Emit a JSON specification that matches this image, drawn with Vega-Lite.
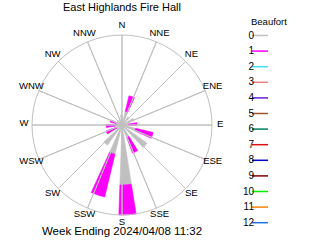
{
  "$schema": "https://vega.github.io/schema/vega-lite/v6.json",
  "width": 180,
  "height": 180,
  "autosize": {"type": "none"},
  "padding": {"left": 32, "top": 35, "right": 108, "bottom": 25},
  "background": "white",
  "title": {
    "text": "East Highlands Fire Hall",
    "font": "Liberation Sans",
    "fontSize": 11,
    "fontWeight": "normal",
    "color": "black",
    "anchor": "middle",
    "offset": 4
  },
  "config": {
    "view": {"stroke": null},
    "legend": {
      "orient": "none",
      "legendX": 219,
      "legendY": -18.5,
      "symbolType": "stroke",
      "symbolSize": 256,
      "symbolStrokeWidth": 1.5,
      "labelAlign": "right",
      "labelOffset": -15,
      "labelFont": "Liberation Sans",
      "labelFontSize": 10,
      "labelColor": "black",
      "titleFont": "Liberation Sans",
      "titleFontSize": 9.5,
      "titleFontWeight": "normal",
      "titleColor": "black",
      "titlePadding": 0.5,
      "rowPadding": 1.6
    }
  },
  "datasets": {
    "rose": [
      {"dir": "N", "deg": 0, "beaufort": 0, "freq": 3.3},
      {"dir": "NNE", "deg": 22.5, "beaufort": 0, "freq": 4.7},
      {"dir": "NNE", "deg": 22.5, "beaufort": 1, "freq": 5.3},
      {"dir": "NE", "deg": 45, "beaufort": 0, "freq": 3.3},
      {"dir": "ENE", "deg": 67.5, "beaufort": 0, "freq": 4.3},
      {"dir": "E", "deg": 90, "beaufort": 0, "freq": 2.0},
      {"dir": "E", "deg": 90, "beaufort": 1, "freq": 3.0},
      {"dir": "ESE", "deg": 112.5, "beaufort": 0, "freq": 4.7},
      {"dir": "ESE", "deg": 112.5, "beaufort": 1, "freq": 6.0},
      {"dir": "SE", "deg": 135, "beaufort": 0, "freq": 10.3},
      {"dir": "SSE", "deg": 157.5, "beaufort": 0, "freq": 4.5},
      {"dir": "SSE", "deg": 157.5, "beaufort": 1, "freq": 5.5},
      {"dir": "S", "deg": 180, "beaufort": 0, "freq": 20.0},
      {"dir": "S", "deg": 180, "beaufort": 1, "freq": 10.0},
      {"dir": "SSW", "deg": 202.5, "beaufort": 0, "freq": 10.0},
      {"dir": "SSW", "deg": 202.5, "beaufort": 1, "freq": 14.7},
      {"dir": "SW", "deg": 225, "beaufort": 0, "freq": 8.3},
      {"dir": "WSW", "deg": 247.5, "beaufort": 0, "freq": 2.0},
      {"dir": "WSW", "deg": 247.5, "beaufort": 1, "freq": 3.7},
      {"dir": "W", "deg": 270, "beaufort": 0, "freq": 2.0},
      {"dir": "W", "deg": 270, "beaufort": 1, "freq": 3.3},
      {"dir": "WNW", "deg": 292.5, "beaufort": 0, "freq": 2.0},
      {"dir": "WNW", "deg": 292.5, "beaufort": 1, "freq": 2.0},
      {"dir": "NW", "deg": 315, "beaufort": 0, "freq": 2.0},
      {"dir": "NNW", "deg": 337.5, "beaufort": 0, "freq": 2.0}
    ],
    "compass": [
      {"dir": "N", "deg": 0},
      {"dir": "NNE", "deg": 22.5},
      {"dir": "NE", "deg": 45},
      {"dir": "ENE", "deg": 67.5},
      {"dir": "E", "deg": 90},
      {"dir": "ESE", "deg": 112.5},
      {"dir": "SE", "deg": 135},
      {"dir": "SSE", "deg": 157.5},
      {"dir": "S", "deg": 180},
      {"dir": "SSW", "deg": 202.5},
      {"dir": "SW", "deg": 225},
      {"dir": "WSW", "deg": 247.5},
      {"dir": "W", "deg": 270},
      {"dir": "WNW", "deg": 292.5},
      {"dir": "NW", "deg": 315},
      {"dir": "NNW", "deg": 337.5}
    ],
    "caption": [
      {"text": "Week Ending 2024/04/08 11:32"}
    ]
  },
  "layer": [
    {
      "data": {"name": "rose"},
      "transform": [
        {"stack": "freq", "groupby": ["deg"], "sort": [{"field": "beaufort"}], "as": ["r0", "r1"]}
      ],
      "mark": {"type": "arc", "strokeWidth": 0.6, "thetaOffset": -0.157, "theta2Offset": 0.035},
      "encoding": {
        "theta": {"field": "deg", "type": "quantitative", "scale": {"domain": [0, 360], "range": [0, 6.28319]}},
        "theta2": {"field": "deg"},
        "radius": {"field": "r1", "type": "quantitative", "scale": {"type": "linear", "domain": [0, 30], "range": [0, 90], "zero": true, "nice": false}},
        "radius2": {"field": "r0"},
        "fill": {
          "field": "beaufort",
          "type": "ordinal",
          "title": "Beaufort",
          "scale": {
            "domain": [0, 1, 2, 3, 4, 5, 6, 7, 8, 9, 10, 11, 12],
            "range": ["#c0c0c0", "#ff00ff", "#40e0f0", "#f08080", "#6a1ad8", "#a0522d", "#008060", "#e01010", "#0000c8", "#800000", "#00f000", "#ff8000", "#1e70e0"]
          }
        },
        "stroke": {
          "field": "beaufort",
          "type": "ordinal",
          "title": "Beaufort",
          "scale": {
            "domain": [0, 1, 2, 3, 4, 5, 6, 7, 8, 9, 10, 11, 12],
            "range": ["#c0c0c0", "#ff00ff", "#40e0f0", "#f08080", "#6a1ad8", "#a0522d", "#008060", "#e01010", "#0000c8", "#800000", "#00f000", "#ff8000", "#1e70e0"]
          }
        }
      }
    },
    {
      "data": {"name": "compass"},
      "mark": {"type": "arc", "filled": false, "stroke": "#c0c0c0", "strokeWidth": 1},
      "encoding": {
        "theta": {"field": "deg", "type": "quantitative"},
        "theta2": {"field": "deg"},
        "radius": {"datum": 30},
        "radius2": {"datum": 0}
      }
    },
    {
      "data": {"name": "caption"},
      "mark": {"type": "arc", "filled": false, "stroke": "#c0c0c0", "strokeWidth": 1},
      "encoding": {
        "theta": {"datum": 0},
        "theta2": {"datum": 360},
        "radius": {"datum": 30}
      }
    },
    {
      "data": {"name": "compass"},
      "mark": {"type": "text", "font": "Liberation Sans", "fontSize": 9.5, "color": "black", "align": "center", "baseline": "middle", "dy": -1.5},
      "encoding": {
        "theta": {"field": "deg", "type": "quantitative"},
        "radius": {"datum": 32.7},
        "text": {"field": "dir"}
      }
    },
    {
      "data": {"name": "caption"},
      "mark": {"type": "text", "font": "Liberation Sans", "fontSize": 11.5, "color": "black", "align": "center", "baseline": "middle"},
      "encoding": {
        "theta": {"datum": 180},
        "radius": {"datum": 35.8},
        "text": {"field": "text"}
      }
    }
  ]
}
